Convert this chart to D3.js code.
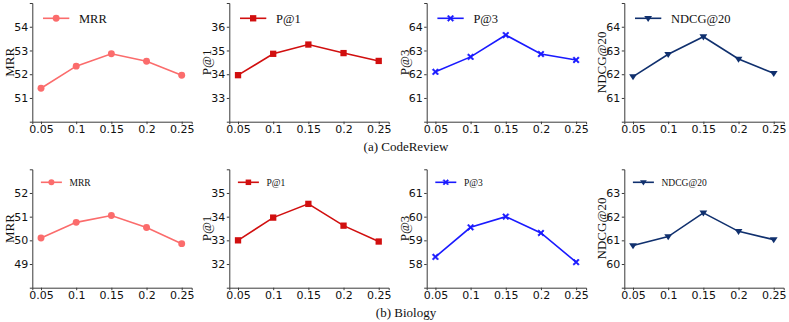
<!DOCTYPE html>
<html>
<head>
<meta charset="utf-8">
<script src="https://cdn.jsdelivr.net/npm/d3@7"></script>
<style>
  body { margin: 0; background: #fff; }
  svg { display: block; }
</style>
</head>
<body>
<div class="chart"></div>
<script>
// x values (the ratio that was varied)
var ratios = [0.05, 0.1, 0.15, 0.2, 0.25];
var xTicks = ["0.05", "0.1", "0.15", "0.2", "0.25"];

// metric names and their colours / markers
var metrics = ["MRR", "P@1", "P@3", "NDCG@20"];
var colors = ["#fb6c6c", "#d10f0f", "#1a1aff", "#10306e"];
var markers = ["circle", "square", "x", "tri"];

// (a) CodeReview
var codeMRR = [51.41, 52.34, 52.86, 52.55, 51.96];
var codeP1 = [33.96, 34.86, 35.25, 34.89, 34.56];
var codeP3 = [62.10, 62.73, 63.65, 62.85, 62.60];
var codeNDCG = [61.90, 62.84, 63.58, 62.64, 62.04];

// (b) Biology
var bioMRR = [50.10, 50.76, 51.05, 50.54, 49.86];
var bioP1 = [33.00, 33.96, 34.54, 33.62, 32.95];
var bioP3 = [58.30, 59.55, 60.00, 59.31, 58.08];
var bioNDCG = [60.78, 61.16, 62.16, 61.38, 61.03];

// y domains and ticks per panel
var codeDomains = [[50, 55], [32, 37], [60, 65], [60, 65]];
var codeTicks = [[51, 52, 53, 54], [33, 34, 35, 36], [61, 62, 63, 64], [61, 62, 63, 64]];
var bioDomains = [[48, 53], [31, 36], [57, 62], [59, 64]];
var bioTicks = [[49, 50, 51, 52], [32, 33, 34, 35], [58, 59, 60, 61], [60, 61, 62, 63]];

var rows = [
  { series: [codeMRR, codeP1, codeP3, codeNDCG], domains: codeDomains, ticks: codeTicks,
    top: 3, bottom: 121.7, legendFont: 12.5, legendDy: 15.3, legendLine: [10.7, 37], legendText: 46.7, big: true,
    caption: "(a) CodeReview", captionY: 150.5 },
  { series: [bioMRR, bioP1, bioP3, bioNDCG], domains: bioDomains, ticks: bioTicks,
    top: 169.3, bottom: 287.7, legendFont: 9.5, legendDy: 13, legendLine: [8.6, 29.6], legendText: 37.2, big: false,
    caption: "(b) Biology", captionY: 317 }
];

// left edge of each panel's y axis
var axisLeft = [32.3, 229.3, 426.7, 624.3];
var axisWidth = 159.4;

const w = 789;
const h = 322;

const svg = d3.select(".chart")
  .append("svg")
  .attr("width", w)
  .attr("height", h);

//draw one marker symbol
function drawMarker(g, type, x, y, color, size) {
  if (type == "circle") {
    g.append("circle").attr("cx", x).attr("cy", y).attr("r", size * 0.55).attr("fill", color);
  } else if (type == "square") {
    g.append("rect").attr("x", x - size / 2).attr("y", y - size / 2)
      .attr("width", size).attr("height", size).attr("fill", color);
  } else if (type == "x") {
    var s = size * 0.5;
    var t = size * 0.17;
    var p = [[-s, -s + t], [-s + t, -s], [0, -t], [s - t, -s], [s, -s + t], [t, 0],
             [s, s - t], [s - t, s], [0, t], [-s + t, s], [-s, s - t], [-t, 0]];
    g.append("path")
      .attr("d", "M" + p.map(q => (x + q[0]) + "," + (y + q[1])).join("L") + "Z")
      .attr("fill", color)
      .attr("stroke", color)
      .attr("stroke-width", 0.6);
  } else {
    var r = size * 0.62;
    g.append("path")
      .attr("d", "M" + (x - r) + "," + (y - r * 0.6) + "L" + (x + r) + "," + (y - r * 0.6) + "L" + x + "," + (y + r * 0.95) + "Z")
      .attr("fill", color);
  }
}

rows.forEach(function(row) {
  for (var k = 0; k < 4; k++) {
    var left = axisLeft[k];
    var g = svg.append("g");

    const xScale = d3.scaleLinear()
      .domain([0.0376, 0.2642])
      .range([left, left + axisWidth]);

    const yScale = d3.scaleLinear()
      .domain(row.domains[k])
      .range([row.bottom, row.top]);

    //x axis
    const xAxis = d3.axisBottom(xScale)
      .tickValues(ratios)
      .tickFormat((d, i) => xTicks[i])
      .tickSize(2.5)
      .tickPadding(1.2);
    var gx = g.append("g")
      .attr("transform", "translate(0," + row.bottom + ")")
      .call(xAxis);

    //y axis
    const yAxis = d3.axisLeft(yScale)
      .tickValues(row.ticks[k])
      .tickFormat(d3.format("d"))
      .tickSize(2.5)
      .tickPadding(1.5);
    var gy = g.append("g")
      .attr("transform", "translate(" + left + ",0)")
      .call(yAxis);

    [gx, gy].forEach(function(a) {
      a.select(".domain").attr("stroke", "#3a3a3a").attr("stroke-width", 1);
      a.selectAll(".tick line").attr("stroke", "#3a3a3a");
      a.selectAll(".tick text")
        .attr("fill", "#111")
        .style("font-family", "'DejaVu Sans', sans-serif")
        .style("font-size", "11px");
    });

    //y label
    g.append("text")
      .attr("transform", "translate(" + (left - 22.5) + "," + ((row.top + row.bottom) / 2) + ") rotate(-90)")
      .attr("text-anchor", "middle")
      .attr("dy", "0.35em")
      .style("font-family", "'Liberation Serif', 'Times New Roman', serif")
      .style("font-size", "13px")
      .attr("fill", "#111")
      .text(metrics[k]);

    //the line
    var vals = row.series[k];
    var pts = ratios.map((r, i) => [xScale(r), yScale(vals[i])]);
    g.append("path")
      .attr("d", d3.line()(pts))
      .attr("fill", "none")
      .attr("stroke", colors[k])
      .attr("stroke-width", 1.6);

    pts.forEach(function(p) {
      drawMarker(g, markers[k], p[0], p[1], colors[k], 6.3);
    });

    //legend
    var ly = row.top + row.legendDy;
    g.append("line")
      .attr("x1", left + row.legendLine[0])
      .attr("x2", left + row.legendLine[1])
      .attr("y1", ly).attr("y2", ly)
      .attr("stroke", colors[k])
      .attr("stroke-width", 1.6);
    drawMarker(g, markers[k], left + (row.legendLine[0] + row.legendLine[1]) / 2, ly, colors[k], row.big ? 6.3 : 5.5);
    g.append("text")
      .attr("x", left + row.legendText)
      .attr("y", ly)
      .attr("dy", "0.35em")
      .style("font-family", "'Liberation Serif', 'Times New Roman', serif")
      .style("font-size", row.legendFont + "px")
      .attr("fill", "#111")
      .text(metrics[k]);
  }

  //caption under the row
  svg.append("text")
    .attr("x", 406)
    .attr("y", row.captionY)
    .attr("text-anchor", "middle")
    .style("font-family", "'Liberation Serif', 'Times New Roman', serif")
    .style("font-size", "13px")
    .attr("fill", "#111")
    .text(row.caption);
});
</script>
</body>
</html>
